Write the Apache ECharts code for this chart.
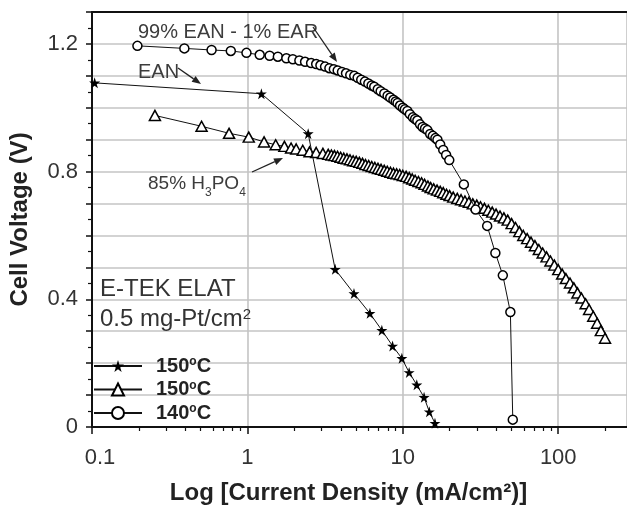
<!DOCTYPE html>
<html><head><meta charset="utf-8">
<script src="https://cdn.jsdelivr.net/npm/echarts@6/dist/echarts.min.js"></script>
<style>html,body{margin:0;padding:0;background:#fff}#c{width:627px;height:510px}</style>
</head><body><div id="c"></div>
<script>
// ---- data ----
const xTickLabels = [0.1, 1, 10, 100];
const minorTickValues = [0.2,0.3,0.4,0.5,0.6,0.7,0.8,0.9,2,3,4,5,6,7,8,9,20,30,40,50,60,70,80,90,200];
const yTickLabels = [0, 0.4, 0.8, 1.2];
const seriesNames = ['EAN', '85% H3PO4', '99% EAN - 1% EAR'];
const legendLabels = ['150{s|o}C', '150{s|o}C', '140{s|o}C'];

const eanStar = [[0.104,1.078],[1.23,1.044],[2.46,0.919],[3.67,0.494],[4.85,0.418],[6.14,0.356],[7.33,0.303],[8.59,0.254],[9.86,0.215],[10.98,0.171],[12.3,0.132],[13.7,0.093],[14.8,0.048],[16.1,0.012]];

const h3po4Tri = [[0.254,0.976],[0.507,0.942],[0.762,0.920],[1.02,0.908],[1.28,0.893],[1.52,0.884],[1.73,0.879],[1.91,0.874],[2.06,0.871],[2.27,0.867],[2.51,0.862],[2.77,0.860],[3.06,0.857],
[3.31,0.854],[3.47,0.852],[3.63,0.850],[3.80,0.848],[3.98,0.845],[4.17,0.842],[4.37,0.840],[4.57,0.837],[4.79,0.834],[5.01,0.832],[5.25,0.829],[5.50,0.826],[5.75,0.822],[6.03,0.819],[6.31,0.816],[6.61,0.813],[6.92,0.810],[7.24,0.807],[7.59,0.804],[7.94,0.801],[8.32,0.798],[8.71,0.795],[9.12,0.793],[9.55,0.791],[10.0,0.788],[10.5,0.785],[11.0,0.781],[11.5,0.777],[12.0,0.773],[12.6,0.769],[13.2,0.765],[13.8,0.760],[14.5,0.755],[15.1,0.750],[15.8,0.746],[16.6,0.742],[17.4,0.738],[18.2,0.734],[19.1,0.729],[20.0,0.725],
[21.1,0.720],[22.4,0.716],[23.7,0.712],[25.1,0.708],[26.6,0.704],[28.2,0.699],[29.9,0.695],[31.6,0.690],[33.5,0.685],[35.5,0.679],[37.6,0.673],[39.8,0.667],[42.2,0.661],[44.7,0.655],[47.3,0.648],[50.1,0.637],[53.1,0.625],[56.2,0.612],[59.6,0.600],[63.1,0.590],[66.8,0.579],[70.8,0.568],[75.0,0.556],[79.4,0.545],[84.1,0.533],[89.1,0.520],[94.4,0.507],[100,0.493],[106,0.479],[112,0.465],[119,0.451],[126,0.436],[133,0.420],[141,0.404],[150,0.386],[158,0.368],[168,0.347],[178,0.325],[188,0.302],[200,0.278]];

const earCircle = [[0.196,1.194],[0.393,1.186],[0.588,1.181],[0.782,1.178],[0.986,1.172],[1.2,1.166],[1.39,1.163],[1.57,1.160],[1.78,1.155],[1.96,1.152],[2.16,1.148],[2.35,1.144],[2.57,1.140],[2.77,1.137],[2.95,1.133],[3.16,1.129],[3.37,1.124],[3.6,1.121],[3.81,1.117],[4.06,1.112],[4.31,1.108],[4.59,1.103],[4.87,1.100],[5.12,1.094],[5.4,1.088],[5.7,1.082],[6.0,1.076],[6.3,1.070],[6.55,1.066],[6.9,1.058],[7.2,1.052],[7.6,1.045],[7.98,1.038],[8.3,1.032],[8.7,1.025],[9.0,1.020],[9.25,1.015],[9.6,1.007],[10.0,1.000],[10.3,0.995],[10.7,0.990],[11.1,0.980],[11.6,0.970],[12.0,0.965],[12.4,0.960],[12.9,0.948],[13.4,0.940],[13.9,0.935],[14.4,0.930],[15.0,0.918],[15.6,0.912],[16.2,0.905],[16.7,0.900],[17.4,0.885],[18.2,0.868],[19.0,0.852],[19.9,0.836],[24.7,0.760],[29.4,0.681],[34.9,0.630],[39.4,0.545],[44,0.475],[49.2,0.360],[51,0.023]];

// ---- chart ----
const FF = '"Liberation Sans", Arial, sans-serif';
const STAR = 'path://M50,0 L61,35 L98,35 L68,57 L79,91 L50,70 L21,91 L32,57 L2,35 L39,35 Z';
const X_MIN = 0.1, X_MAX = 277;

function arrow(x1, y1, x2, y2) {
  const a = Math.atan2(y2 - y1, x2 - x1), L = 9, W = 3.5;
  const bx = x2 - L * Math.cos(a), by = y2 - L * Math.sin(a);
  const px = -Math.sin(a) * W, py = Math.cos(a) * W;
  return [
    {type: 'line', shape: {x1, y1, x2: bx, y2: by}, style: {stroke: '#222', lineWidth: 1.3}, z: 50},
    {type: 'polygon', shape: {points: [[x2, y2], [bx + px, by + py], [bx - px, by - py]]}, style: {fill: '#222'}, z: 50}
  ];
}

const chart = echarts.init(document.getElementById('c'), null, {renderer: 'canvas'});
chart.setOption({
  animation: false,
  backgroundColor: '#fff',
  grid: {left: 90, right: 0, top: 12, bottom: 82},
  xAxis: [
    {
      type: 'log', logBase: 10, min: X_MIN, max: X_MAX, position: 'bottom',
      name: 'Log [Current Density (mA/cm²)]', nameLocation: 'middle', nameGap: 54,
      nameTextStyle: {fontSize: 24, fontWeight: 'bold', color: '#222', fontFamily: FF, padding: [0, 22, 0, 0]},
      axisLine: {lineStyle: {color: '#111', width: 2}},
      axisTick: {length: 7, lineStyle: {color: '#111', width: 1.5}},
      axisLabel: {
        fontSize: 22, color: '#333', fontFamily: FF, margin: 20, showMaxLabel: false,
        formatter: v => {
          if (!xTickLabels.some(t => Math.abs(Math.log10(t) - Math.log10(v)) < 1e-6)) return '';
          return v < 1 ? '{m|' + v.toFixed(1) + '}' : String(Math.round(v));
        },
        rich: {m: {fontSize: 22, color: '#333', fontFamily: FF, padding: [0, 0, 0, 16]}}
      },
      splitLine: {show: true, lineStyle: {color: '#c4c4c4', width: 1.6}}
    },
    {
      type: 'log', logBase: 10, min: X_MIN, max: X_MAX, position: 'bottom',
      axisLine: {show: false}, axisLabel: {show: false}, splitLine: {show: false},
      axisTick: {show: true, customValues: minorTickValues, length: 4, lineStyle: {color: '#111', width: 1.2}}
    },
    {
      type: 'log', logBase: 10, min: X_MIN, max: X_MAX, position: 'top',
      axisLine: {show: true, lineStyle: {color: '#111', width: 2}},
      axisTick: {show: false}, axisLabel: {show: false}, splitLine: {show: false}
    }
  ],
  yAxis: {
    type: 'value', min: 0, max: 1.3, interval: 0.1,
    name: 'Cell Voltage (V)', nameLocation: 'middle', nameGap: 60,
    nameTextStyle: {fontSize: 24, fontWeight: 'bold', color: '#222', fontFamily: FF},
    axisLine: {show: true, lineStyle: {color: '#111', width: 2}},
    axisTick: {show: true, length: 6, lineStyle: {color: '#111', width: 1.5}},
    minorTick: {show: true, splitNumber: 2, length: 4, lineStyle: {color: '#111', width: 1.2}},
    axisLabel: {
      fontSize: 22, color: '#333', fontFamily: FF, margin: 14, showMaxLabel: false,
      formatter: v => {
        const hit = yTickLabels.find(t => Math.abs(t - v) < 1e-6);
        if (hit === undefined) return '';
        return hit === 0 ? '0' : hit.toFixed(1);
      }
    },
    splitLine: {show: true, lineStyle: {color: '#c4c4c4', width: 1.6}}
  },
  legend: {
    orient: 'vertical', left: 88, top: 351, itemWidth: 48, itemHeight: 15, itemGap: 3.5,
    selectedMode: false, data: seriesNames,
    formatter: n => legendLabels[seriesNames.indexOf(n)],
    textStyle: {
      fontSize: 20, fontWeight: 'bold', color: '#222', fontFamily: FF, lineHeight: 20, padding: [0, 0, 0, 9],
      rich: {s: {fontSize: 12, fontWeight: 'bold', color: '#222', fontFamily: FF, lineHeight: 12, verticalAlign: 'top'}}
    }
  },
  series: [
    {
      name: seriesNames[0], type: 'line', data: eanStar, showAllSymbol: true,
      symbol: STAR, symbolSize: 11,
      itemStyle: {color: '#000'}, lineStyle: {color: '#111', width: 1}, z: 3
    },
    {
      name: seriesNames[1], type: 'line', data: h3po4Tri, showAllSymbol: true,
      symbol: 'triangle', symbolSize: [11, 10],
      itemStyle: {color: '#fff', borderColor: '#000', borderWidth: 1.5}, lineStyle: {color: '#111', width: 1}, z: 2
    },
    {
      name: seriesNames[2], type: 'line', data: earCircle, showAllSymbol: true,
      symbol: 'circle', symbolSize: 9,
      itemStyle: {color: '#fff', borderColor: '#000', borderWidth: 1.5}, lineStyle: {color: '#111', width: 1}, z: 4
    }
  ],
  graphic: [
    {type: 'text', x: 138, y: 32, z: 50, style: {text: '99% EAN - 1% EAR', fontSize: 20, fontFamily: FF, fill: '#3c3c3c', align: 'left', verticalAlign: 'middle'}},
    {type: 'text', x: 138, y: 72, z: 50, style: {text: 'EAN', fontSize: 20, fontFamily: FF, fill: '#3c3c3c', align: 'left', verticalAlign: 'middle'}},
    {type: 'text', x: 148, y: 184, z: 50, style: {
      text: '85% H{s|3}PO{s|4}', fontSize: 19, fontFamily: FF, fill: '#3c3c3c', align: 'left', verticalAlign: 'middle', lineHeight: 30,
      rich: {s: {fontSize: 12, fontFamily: FF, fill: '#3c3c3c', lineHeight: 12, verticalAlign: 'bottom'}}
    }},
    {type: 'text', x: 100, y: 289, z: 50, style: {text: 'E-TEK ELAT', fontSize: 24, fontFamily: FF, fill: '#333', align: 'left', verticalAlign: 'middle'}},
    {type: 'text', x: 100, y: 319, z: 50, style: {
      text: '0.5 mg-Pt/cm{s|2}', fontSize: 24, fontFamily: FF, fill: '#333', align: 'left', verticalAlign: 'middle', lineHeight: 24,
      rich: {s: {fontSize: 15, fontFamily: FF, fill: '#333', lineHeight: 15, verticalAlign: 'top'}}
    }},
    ...arrow(313, 27, 337, 62),
    ...arrow(178, 68, 201, 84),
    ...arrow(252, 172, 283, 158)
  ]
});
</script>
</body></html>
